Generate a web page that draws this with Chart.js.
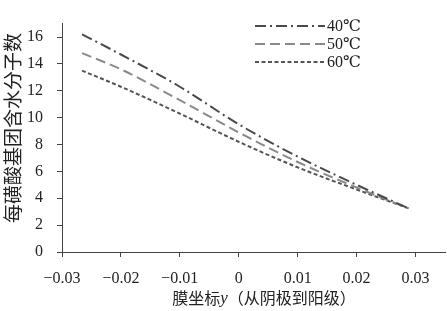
<!DOCTYPE html>
<html><head><meta charset="utf-8">
<script src="https://cdn.jsdelivr.net/npm/chart.js@4"></script>
<style>html,body{margin:0;padding:0;background:#fff}#wrap{width:447px;height:311px}</style>
</head><body><div id="wrap"><canvas id="c" width="447" height="311"></canvas></div>
<script>
const xPositions = [-0.0266, -0.02, -0.01, 0, 0.01, 0.02, 0.0288];
const series40 = [16.2, 14.7, 12.3, 9.5, 7.1, 5.0, 3.25];
const series50 = [14.8, 13.6, 11.3, 8.9, 6.7, 4.8, 3.25];
const series60 = [13.5, 12.3, 10.3, 8.2, 6.3, 4.65, 3.25];
const seriesLabels = ['40℃', '50℃', '60℃'];
const xTicks = [-0.03, -0.02, -0.01, 0, 0.01, 0.02, 0.03];
const yTicks = [0, 2, 4, 6, 8, 10, 12, 14, 16];
const yTitle = '每磺酸基团含水分子数';
const xTitleParts = ['膜坐标', 'y', '（从阴极到阳级）'];

const toPts = arr => arr.map((v, i) => ({x: xPositions[i], y: v}));
const styles = [
  {color: '#4a4a4a', dash: [11, 4, 2, 4]},
  {color: '#8a8a8a', dash: [10, 5]},
  {color: '#555555', dash: [4, 2.5]}
];
const datasets = [series40, series50, series60].map((s, i) => ({
  label: seriesLabels[i], data: toPts(s), borderColor: styles[i].color,
  borderDash: styles[i].dash, borderWidth: 2, pointRadius: 0, fill: false,
  cubicInterpolationMode: 'monotone'
}));

const serif = '"Liberation Serif", "DejaVu Serif", serif';
const fmt = v => { const s = (Math.round(v * 100) / 100).toString(); return s.replace('-', '\u2212'); };

const decor = {
  id: 'decor',
  afterDraw(chart) {
    const ctx = chart.ctx;
    ctx.save();
    // legend
    const lx0 = 255, lx1 = 325, ly = [26, 44, 62];
    datasets.forEach((d, i) => {
      ctx.beginPath();
      ctx.setLineDash(d.borderDash);
      ctx.strokeStyle = d.borderColor;
      ctx.lineWidth = 2;
      ctx.moveTo(lx0, ly[i]); ctx.lineTo(lx1, ly[i]); ctx.stroke();
      ctx.setLineDash([]);
      ctx.fillStyle = '#222';
      ctx.font = '16px ' + serif;
      ctx.textBaseline = 'middle';
      ctx.textAlign = 'left';
      ctx.fillText(d.label, 327, ly[i] + 1);
    });
    // y title
    ctx.save();
    ctx.translate(13, 128);
    ctx.rotate(-Math.PI / 2);
    ctx.font = '19px "Noto Sans CJK SC", sans-serif';
    ctx.fillStyle = '#222';
    ctx.textAlign = 'center';
    ctx.textBaseline = 'middle';
    ctx.fillText(yTitle, 0, 0);
    ctx.restore();
    // x title
    const f1 = '16px "Noto Sans CJK SC", sans-serif';
    const f2 = 'italic 17px ' + serif;
    ctx.textBaseline = 'middle';
    ctx.textAlign = 'left';
    ctx.font = f1; const w1 = ctx.measureText(xTitleParts[0]).width; const w3 = ctx.measureText(xTitleParts[2]).width;
    ctx.font = f2; const w2 = ctx.measureText(xTitleParts[1]).width;
    let x = 264 - (w1 + w2 + w3) / 2;
    const y = 298;
    ctx.fillStyle = '#222';
    ctx.font = f1; ctx.fillText(xTitleParts[0], x, y); x += w1;
    ctx.font = f2; ctx.fillText(xTitleParts[1], x, y + 1); x += w2;
    ctx.font = f1; ctx.fillText(xTitleParts[2], x, y);
    ctx.restore();
  }
};

new Chart(document.getElementById('c'), {
  type: 'line',
  data: {datasets},
  options: {
    responsive: false, animation: false,
    layout: {padding: {left: 0, right: 2, top: 4, bottom: 0}},
    plugins: {legend: {display: false}, tooltip: {enabled: false}},
    scales: {
      x: {
        type: 'linear', min: -0.03, max: 0.035,
        afterBuildTicks: s => { s.ticks = xTicks.map(v => ({value: v})); },
        afterFit: s => { s.height = 59; },
        ticks: {callback: v => fmt(v), color: '#222', font: {family: serif, size: 16}, padding: 12, maxRotation: 0, autoSkip: false},
        grid: {drawOnChartArea: false, drawTicks: true, tickLength: 5, color: '#444', tickColor: '#444'},
        border: {color: '#444', width: 1}
      },
      y: {
        min: 0, max: 17,
        afterBuildTicks: s => { s.ticks = yTicks.map(v => ({value: v})); },
        afterFit: s => { s.width = 62; },
        ticks: {callback: v => fmt(v), color: '#222', font: {family: serif, size: 16}, padding: 14},
        grid: {drawOnChartArea: false, drawTicks: true, tickLength: 5, color: '#444', tickColor: '#444'},
        border: {color: '#444', width: 1}
      }
    }
  },
  plugins: [decor]
});
</script>
</body></html>
